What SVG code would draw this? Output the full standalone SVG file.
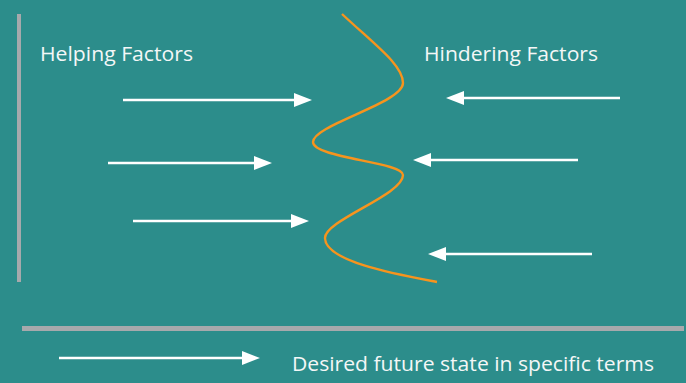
<svg xmlns="http://www.w3.org/2000/svg" width="686" height="383" viewBox="0 0 686 383">
  <style>
    .bar { fill: #A7A9AC; }
    .force { stroke: #FFFFFF; stroke-width: 2.5; fill: none; marker-end: url(#head); }
    .label { font-family: "Open Sans", "Liberation Sans", sans-serif; font-size: 20.5px; fill: #F4F7F7; }
    .curve { stroke: #F7941D; stroke-width: 2.4; fill: none; stroke-linecap: butt; }
  </style>
  <defs>
    <marker id="head" markerUnits="userSpaceOnUse" markerWidth="18" markerHeight="14" refX="0" refY="7" orient="auto">
      <path d="M0,0 L18,7 L0,14 Z" fill="#FFFFFF"/>
    </marker>
  </defs>

  <rect width="686" height="383" fill="#2C8D8B"/>

  <!-- axis bars -->
  <rect class="bar" x="17" y="14" width="4" height="268"/>
  <rect class="bar" x="22" y="326" width="662" height="5"/>

  <!-- labels -->
  <g id="helping-label">
    <text class="label" x="40" y="61" textLength="153" lengthAdjust="spacingAndGlyphs">Helping Factors</text>
  </g>
  <g id="hindering-label">
    <text class="label" x="424" y="61" textLength="174" lengthAdjust="spacingAndGlyphs">Hindering Factors</text>
  </g>
  <g id="desired-state">
    <text class="label" x="292" y="371" textLength="362" lengthAdjust="spacingAndGlyphs">Desired future state in specific terms</text>
  </g>

  <!-- equilibrium line between the opposing forces -->
  <g id="equilibrium">
    <path class="curve" d="M342 14 C375 45, 403 65, 403 83 C403 103, 313 125, 313 142 C313 158, 403 162, 403 175 C403 195, 325 220, 325 238 C325 262, 400 275, 437 282"/>
  </g>

  <!-- force arrows -->
  <g id="connectors">
    <line class="force" x1="123" y1="100" x2="294" y2="100"/>
    <line class="force" x1="108" y1="163" x2="254" y2="163"/>
    <line class="force" x1="133" y1="221" x2="291" y2="221"/>
    <line class="force" x1="620" y1="98" x2="464" y2="98"/>
    <line class="force" x1="578" y1="160" x2="431" y2="160"/>
    <line class="force" x1="592" y1="254" x2="446" y2="254"/>
    <line class="force" x1="59" y1="358" x2="242" y2="358"/>
  </g>
</svg>
